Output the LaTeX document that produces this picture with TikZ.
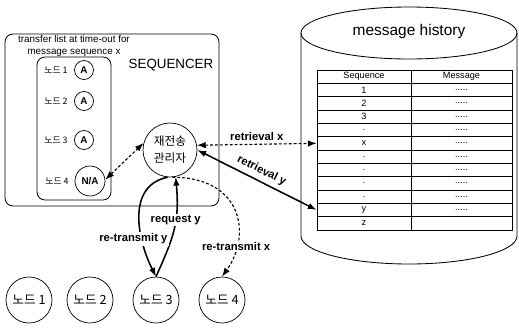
\documentclass[tikz,border=0pt]{standalone}
\usepackage{fontspec}
\setmainfont{Liberation Sans}
\newfontfamily\kr{Noto Sans CJK KR}
\usetikzlibrary{arrows.meta,positioning}
\newcommand\msgdots{.....}

\begin{document}
\begin{tikzpicture}[x=0.25mm,y=-0.25mm,
frame/.style={draw,rounded corners=2mm,line width=.6pt,inner sep=0pt},
tag/.style={draw,circle,inner sep=0pt,minimum size=4.75mm,line width=.5pt,font=\fontsize{7}{8}\selectfont\bfseries},
rowlab/.style={font=\kr\fontsize{6.3}{7}\selectfont,inner sep=0pt},
peer/.style={draw,circle,inner sep=0pt,minimum size=11.5mm,line width=.5pt,font=\kr\fontsize{9}{10}\selectfont},
cell/.style={draw,line width=.5pt,inner sep=0pt,minimum height=3.33mm,font=\fontsize{6.5}{7}\selectfont},
lab/.style={fill=white,inner sep=1pt,font=\fontsize{8}{9}\selectfont\bfseries},
link/.style={{Latex[length=2.2mm,width=1.6mm]}-{Latex[length=2.2mm,width=1.6mm]},line width=1.1pt},
dlink/.style={link,line width=.8pt,dash pattern=on 2pt off 1.5pt},
push/.style={-{Latex[length=2.2mm,width=1.6mm]},line width=1.1pt},
dpush/.style={push,line width=.8pt,dash pattern=on 2pt off 1.5pt}]
\useasboundingbox (0,0) rectangle (519,335);
\node[frame,minimum width=53.5mm,minimum height=43mm] (seq) at (112,120) {};
\node[frame,minimum width=18.5mm,minimum height=35.75mm] (list) at (74,128.5) {};
\node[font=\fontsize{7}{8.5}\selectfont,align=center,inner sep=0pt] (note) at (74,46) {transfer list at time-out for\\message sequence x};
\node[font=\fontsize{9.5}{11}\selectfont] (title) at (171,65) {SEQUENCER};
\node[rowlab] (l1) at (56,70) {노드 1};
\node[rowlab] (l2) at (56,101) {노드 2};
\node[rowlab] (l3) at (56,140) {노드 3};
\node[rowlab] (l4) at (57,181) {노드 4};
\node[tag] (t1) at (84,70) {A};
\node[tag] (t2) at (84,101) {A};
\node[tag] (t3) at (84,140) {A};
\node[tag,minimum size=7.5mm] (na) at (90,181) {N/A};
\node[draw,circle,minimum size=13.5mm,inner sep=0pt,line width=.5pt,align=center,font=\kr\fontsize{8.3}{12}\selectfont] (mgr) at (170,150) {재전송\\관리자};
\node[peer] (n1) at (29,300) {노드 1};
\node[peer] (n2) at (90,300) {노드 2};
\node[peer] (n3) at (156,300) {노드 3};
\node[peer] (n4) at (222,300) {노드 4};
\draw[line width=.6pt] (301,33) -- (301,236) arc[start angle=180,end angle=360,x radius=27mm,y radius=7mm] -- (517,33);
\draw[line width=.6pt] (409,33) ellipse[x radius=27mm,y radius=6.5mm];
\node[font=\fontsize{11}{13}\selectfont] (hist) at (409,31) {message history};
\foreach \s/\m [count=\i from 0] in {Sequence/Message,1/\msgdots,2/\msgdots,3/\msgdots,./\msgdots,x/\msgdots,./\msgdots,./\msgdots,./\msgdots,./\msgdots,y/\msgdots,z/{}} {
  \node[cell,minimum width=23.5mm] (s\i) at (364,{76.67+13.33*\i}) {\s};
  \node[cell,minimum width=25.25mm] (m\i) at (461.5,{76.67+13.33*\i}) {\m};
}
\draw[dlink] (na.5) -- (mgr.165);
\draw[dlink] (mgr.10) -- node[lab,above=1pt]{retrieval x} (s5.west);
\draw[link] (mgr.0) -- node[lab,above=2pt,sloped,fill=none]{retrieval y} (s10.west);
\draw[push] (n3.north) .. controls +(18,-40) and +(4,45) .. node[pos=.6,lab]{request y} (mgr.-78);
\draw[push] (mgr.-95) .. controls +(-40,8) and +(-20,-40) .. node[pos=.7,lab,xshift=-2.2mm]{re-transmit y} (n3.north);
\draw[dpush] (mgr.-85) .. controls +(70,0) and +(30,-42) .. node[pos=.77,lab]{re-transmit x} (n4.north);
\end{tikzpicture}
\end{document}
